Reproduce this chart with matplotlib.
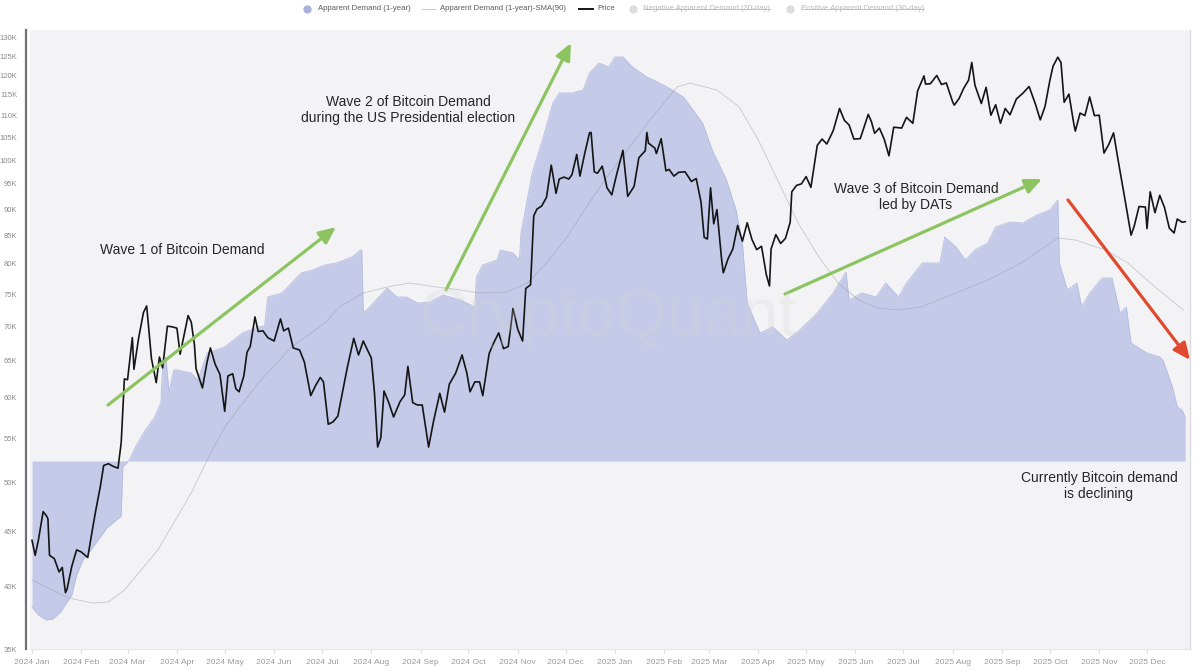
import matplotlib
matplotlib.use('Agg')
import matplotlib.pyplot as plt
import matplotlib.dates as mdates
from matplotlib.ticker import NullLocator
from matplotlib.lines import Line2D
import pandas as pd

plt.rcParams['font.family'] = ['Liberation Sans', 'DejaVu Sans']

# ---------------- data ----------------
price_dates = [
    '2024-01-01', '2024-01-03', '2024-01-05', '2024-01-08', '2024-01-10', '2024-01-11', '2024-01-12', '2024-01-15',
    '2024-01-18', '2024-01-20', '2024-01-22', '2024-01-23', '2024-01-26', '2024-01-29', '2024-02-01', '2024-02-05',
    '2024-02-08', '2024-02-10', '2024-02-13', '2024-02-15', '2024-02-18', '2024-02-21', '2024-02-24', '2024-02-26',
    '2024-02-28', '2024-03-01', '2024-03-04', '2024-03-05', '2024-03-08', '2024-03-11', '2024-03-13', '2024-03-16',
    '2024-03-19', '2024-03-21', '2024-03-23', '2024-03-26', '2024-03-29', '2024-04-01', '2024-04-03', '2024-04-08',
    '2024-04-10', '2024-04-12', '2024-04-13', '2024-04-17', '2024-04-20', '2024-04-22', '2024-04-25', '2024-04-28',
    '2024-05-01', '2024-05-03', '2024-05-06', '2024-05-08', '2024-05-10', '2024-05-13', '2024-05-15', '2024-05-17',
    '2024-05-20', '2024-05-22', '2024-05-25', '2024-05-28', '2024-06-01', '2024-06-05', '2024-06-07', '2024-06-10',
    '2024-06-13', '2024-06-17', '2024-06-20', '2024-06-24', '2024-06-27', '2024-06-30', '2024-07-02', '2024-07-05',
    '2024-07-08', '2024-07-11', '2024-07-14', '2024-07-17', '2024-07-21', '2024-07-24', '2024-07-27', '2024-07-29',
    '2024-08-01', '2024-08-03', '2024-08-05', '2024-08-07', '2024-08-09', '2024-08-12', '2024-08-15', '2024-08-19',
    '2024-08-22', '2024-08-24', '2024-08-27', '2024-08-30', '2024-09-02', '2024-09-06', '2024-09-09', '2024-09-13',
    '2024-09-16', '2024-09-19', '2024-09-23', '2024-09-27', '2024-09-30', '2024-10-02', '2024-10-05', '2024-10-08',
    '2024-10-10', '2024-10-14', '2024-10-17', '2024-10-20', '2024-10-23', '2024-10-26', '2024-10-29', '2024-11-01',
    '2024-11-04', '2024-11-06', '2024-11-09', '2024-11-11', '2024-11-13', '2024-11-16', '2024-11-19', '2024-11-22',
    '2024-11-25', '2024-11-27', '2024-11-30', '2024-12-03', '2024-12-05', '2024-12-08', '2024-12-10', '2024-12-13',
    '2024-12-16', '2024-12-17', '2024-12-19', '2024-12-21', '2024-12-24', '2024-12-27', '2024-12-30',
    '2025-01-02', '2025-01-06', '2025-01-09', '2025-01-13', '2025-01-16', '2025-01-20', '2025-01-21', '2025-01-22',
    '2025-01-26', '2025-01-27', '2025-01-30', '2025-02-02', '2025-02-04', '2025-02-07', '2025-02-10', '2025-02-14',
    '2025-02-18', '2025-02-21', '2025-02-24', '2025-02-26', '2025-02-28', '2025-03-02', '2025-03-04', '2025-03-06',
    '2025-03-09', '2025-03-10', '2025-03-13', '2025-03-16', '2025-03-19', '2025-03-22', '2025-03-25', '2025-03-28',
    '2025-03-31', '2025-04-03', '2025-04-06', '2025-04-08', '2025-04-09', '2025-04-12', '2025-04-15', '2025-04-18',
    '2025-04-21', '2025-04-22', '2025-04-25', '2025-04-28', '2025-05-01', '2025-05-04', '2025-05-08', '2025-05-11',
    '2025-05-14', '2025-05-18', '2025-05-22', '2025-05-25', '2025-05-28', '2025-05-31', '2025-06-04', '2025-06-09',
    '2025-06-11', '2025-06-13', '2025-06-16', '2025-06-19', '2025-06-22', '2025-06-25', '2025-06-30', '2025-07-03',
    '2025-07-07', '2025-07-10', '2025-07-14', '2025-07-15', '2025-07-18', '2025-07-22', '2025-07-25', '2025-07-28',
    '2025-08-01', '2025-08-02', '2025-08-05', '2025-08-08', '2025-08-11', '2025-08-13', '2025-08-15', '2025-08-19',
    '2025-08-22', '2025-08-25', '2025-08-28', '2025-08-31', '2025-09-03', '2025-09-06', '2025-09-10', '2025-09-14',
    '2025-09-18', '2025-09-22', '2025-09-25', '2025-09-28', '2025-10-01', '2025-10-03', '2025-10-06', '2025-10-08',
    '2025-10-10', '2025-10-13', '2025-10-16', '2025-10-17', '2025-10-20', '2025-10-23', '2025-10-26', '2025-10-29',
    '2025-11-01', '2025-11-04', '2025-11-07', '2025-11-10', '2025-11-13', '2025-11-17', '2025-11-21', '2025-11-23',
    '2025-11-26', '2025-11-30', '2025-12-01', '2025-12-03', '2025-12-06', '2025-12-09', '2025-12-12', '2025-12-15',
    '2025-12-18', '2025-12-20', '2025-12-23', '2025-12-25',
]
price_values = [  # USD thousands
    44.2, 42.8, 44.2, 47.0, 46.6, 46.3, 42.8, 42.5,
    41.3, 41.7, 39.5, 39.8, 41.8, 43.3, 43.1, 42.6,
    45.3, 47.1, 49.7, 51.9, 52.1, 51.8, 51.6, 54.5,
    62.5, 62.4, 68.3, 63.8, 68.3, 72.1, 73.1, 65.3,
    62.0, 65.5, 64.0, 70.0, 69.9, 69.7, 65.9, 71.6,
    70.6, 67.2, 63.9, 61.3, 64.9, 66.8, 64.5, 63.1,
    58.3, 62.9, 63.2, 61.2, 60.8, 62.9, 66.2, 67.0,
    71.4, 69.2, 69.3, 68.3, 67.8, 71.1, 69.3, 69.7,
    66.8, 66.5, 64.8, 60.3, 61.6, 62.7, 62.1, 56.7,
    57.0, 57.7, 60.8, 64.1, 68.2, 65.8, 67.8, 66.8,
    65.4, 60.7, 54.0, 55.1, 60.9, 59.4, 57.6, 59.5,
    60.4, 64.2, 59.4, 59.1, 59.1, 54.0, 57.0, 60.6,
    58.2, 61.8, 63.3, 65.8, 63.3, 60.8, 62.1, 62.1,
    60.3, 66.0, 67.6, 69.0, 66.7, 67.0, 72.7, 69.5,
    67.8, 75.9, 76.5, 88.7, 90.0, 90.6, 92.3, 98.9,
    93.1, 96.0, 96.4, 96.0, 96.9, 101.2, 96.6, 101.4,
    106.0, 106.1, 97.5, 97.2, 98.7, 94.2, 92.8,
    96.9, 102.1, 92.5, 94.5, 100.5, 102.0, 106.1, 103.7,
    102.6, 101.4, 104.7, 97.7, 98.0, 96.6, 97.4, 97.5,
    95.5, 96.1, 91.4, 84.7, 84.4, 94.2, 87.2, 89.9,
    80.6, 78.5, 80.9, 82.6, 86.9, 84.0, 87.4, 84.3,
    82.5, 83.1, 78.2, 76.3, 82.6, 85.2, 83.6, 84.5,
    87.5, 93.4, 94.7, 95.0, 96.5, 94.3, 103.2, 104.6,
    103.5, 106.5, 111.7, 108.9, 107.8, 104.6, 104.7, 110.3,
    108.6, 105.9, 107.1, 104.6, 100.9, 107.3, 107.1, 109.6,
    108.2, 116.0, 119.8, 117.7, 117.8, 119.9, 117.6, 118.0,
    113.3, 112.5, 114.1, 116.7, 118.7, 123.3, 117.4, 112.9,
    116.9, 110.1, 112.6, 108.2, 111.7, 110.2, 114.0, 115.4,
    117.1, 112.7, 109.0, 112.2, 118.6, 122.3, 124.7, 123.3,
    113.2, 115.2, 108.2, 106.4, 110.6, 110.0, 114.5, 110.0,
    110.1, 101.5, 103.4, 106.0, 99.7, 92.2, 85.1, 86.8,
    90.5, 90.4, 86.3, 93.4, 89.3, 92.7, 90.3, 86.4,
    85.5, 88.1, 87.5, 87.6,
]

demand_dates = [
    '2024-01-01', '2024-01-05', '2024-01-10', '2024-01-14', '2024-01-19', '2024-01-21', '2024-01-26', '2024-01-29',
    '2024-02-02', '2024-02-07', '2024-02-17', '2024-02-26', '2024-02-27', '2024-03-02', '2024-03-06', '2024-03-11',
    '2024-03-18', '2024-03-22', '2024-03-23', '2024-03-25', '2024-03-27', '2024-03-30', '2024-04-01', '2024-04-10',
    '2024-04-14', '2024-04-20', '2024-05-01', '2024-05-12', '2024-05-22', '2024-05-26', '2024-05-28', '2024-06-06',
    '2024-06-12', '2024-06-18', '2024-06-25', '2024-07-03', '2024-07-10', '2024-07-20', '2024-07-25', '2024-07-26',
    '2024-07-27', '2024-07-31', '2024-08-11', '2024-08-17', '2024-08-23', '2024-08-30', '2024-09-07', '2024-09-15',
    '2024-09-26', '2024-10-05', '2024-10-06', '2024-10-10', '2024-10-19', '2024-10-21', '2024-10-29', '2024-11-02',
    '2024-11-03', '2024-11-10', '2024-11-17', '2024-11-23', '2024-11-27', '2024-12-05', '2024-12-12', '2024-12-16',
    '2024-12-22', '2024-12-28', '2025-01-01', '2025-01-06', '2025-01-12', '2025-01-21', '2025-01-29', '2025-02-06',
    '2025-02-13', '2025-02-19', '2025-02-25', '2025-03-03', '2025-03-12', '2025-03-18', '2025-03-22', '2025-03-25',
    '2025-04-02', '2025-04-10', '2025-04-19', '2025-04-27', '2025-05-08', '2025-05-18', '2025-05-26', '2025-05-28',
    '2025-06-05', '2025-06-14', '2025-06-20', '2025-06-28', '2025-07-03', '2025-07-13', '2025-07-24', '2025-07-27',
    '2025-08-03', '2025-08-09', '2025-08-15', '2025-08-23', '2025-08-28', '2025-09-06', '2025-09-14', '2025-09-23',
    '2025-10-01', '2025-10-06', '2025-10-07', '2025-10-12', '2025-10-18', '2025-10-21', '2025-10-26', '2025-11-03',
    '2025-11-09', '2025-11-14', '2025-11-18', '2025-11-21', '2025-12-01', '2025-12-09', '2025-12-11', '2025-12-17',
    '2025-12-20', '2025-12-23', '2025-12-25',
]
demand_values = [  # thousand BTC (approx.)
    -438, -462, -477, -474, -453, -438, -402, -342,
    -297, -267, -201, -165, -18, 3, 42, 84,
    132, 177, 288, 312, 207, 273, 273, 264,
    243, 324, 342, 384, 402, 405, 492, 504,
    534, 564, 573, 588, 594, 612, 633, 633,
    444, 462, 519, 492, 492, 474, 477, 498,
    483, 462, 552, 588, 603, 633, 624, 603,
    684, 864, 972, 1074, 1104, 1104, 1113, 1164,
    1194, 1182, 1212, 1212, 1182, 1152, 1134, 1113,
    1092, 1053, 1014, 933, 843, 753, 654, 474,
    384, 402, 363, 393, 444, 504, 567, 483,
    504, 492, 534, 492, 534, 594, 594, 672,
    642, 603, 633, 654, 702, 717, 714, 738,
    753, 783, 594, 513, 534, 462, 504, 549,
    549, 444, 462, 354, 324, 312, 303, 222,
    162, 153, 132,
]

sma_dates = [
    '2024-01-01', '2024-01-24', '2024-02-08', '2024-02-18', '2024-02-28', '2024-03-20', '2024-04-10', '2024-04-20',
    '2024-05-01', '2024-05-22', '2024-06-12', '2024-07-03', '2024-07-12', '2024-07-27', '2024-08-11', '2024-08-25',
    '2024-09-11', '2024-09-26', '2024-10-08', '2024-10-25', '2024-11-07', '2024-11-19', '2024-12-02', '2024-12-14',
    '2024-12-27', '2025-01-04', '2025-01-23', '2025-02-09', '2025-02-17', '2025-03-06', '2025-03-20', '2025-04-01',
    '2025-04-14', '2025-04-26', '2025-05-09', '2025-05-21', '2025-06-03', '2025-06-15', '2025-06-28', '2025-07-12',
    '2025-08-03', '2025-08-23', '2025-09-13', '2025-09-28', '2025-10-06', '2025-10-17', '2025-11-05', '2025-11-19',
    '2025-12-06', '2025-12-16', '2025-12-24',
]
sma_values = [
    -357, -411, -426, -423, -387, -267, -96, 3,
    102, 234, 342, 414, 462, 504, 522, 534,
    522, 513, 504, 507, 534, 594, 672, 762,
    852, 903, 1023, 1122, 1134, 1113, 1062, 963,
    834, 714, 612, 534, 483, 459, 453, 462,
    504, 543, 594, 642, 669, 663, 633, 594,
    522, 483, 453,
]

y_tick_values = [35, 40, 45, 50, 55, 60, 65, 70, 75, 80, 85, 90, 95, 100, 105, 110, 115, 120, 125, 130]
y_tick_labels = [f'{v}K' for v in y_tick_values]

legend_labels = ['Apparent Demand (1-year)', 'Apparent Demand (1-year)-SMA(90)', 'Price',
                 'Negative Apparent Demand (30-day)', 'Positive Apparent Demand (30-day)']

# ---------------- figure ----------------
W, H = 1200, 671
fig = plt.figure(figsize=(W / 100, H / 100), dpi=100)
fig.patch.set_facecolor('white')


def fx(px):
    return px / W


def fy(py):
    return 1 - py / H


ax_left, ax_right, ax_top, ax_bottom = 30, 1190, 30, 649
ax = fig.add_axes([fx(ax_left), fy(ax_bottom), (ax_right - ax_left) / W, (ax_bottom - ax_top) / H])
ax.set_facecolor('#f3f3f5')

pd_dates = pd.to_datetime(demand_dates)
ax.fill_between(pd_dates, 0, demand_values, color='#c4cae8', linewidth=0, zorder=1)
ax.plot(pd_dates, demand_values, color='#b4bce1', lw=0.6, zorder=2)
ax.plot(pd.to_datetime(sma_dates), sma_values, color='#9a9aa4', lw=0.6, alpha=0.5, zorder=3)
ax.set_ylim(-564, 1293)

start = mdates.date2num(pd.Timestamp('2024-01-01'))
ax.set_xlim(start - 1.25, start + 727)
month_ticks = pd.date_range('2024-01-01', '2025-12-01', freq='MS')
ax.set_xticks(month_ticks)
ax.set_xticklabels([d.strftime('%Y %b') for d in month_ticks])
ax.tick_params(axis='x', length=3, color='#dcdce0', labelsize=6.1, labelcolor='#9a9aa0', pad=4)
for s in ['top', 'left', 'right']:
    ax.spines[s].set_visible(False)
ax.spines['bottom'].set_color('#e6e6ea')
ax.spines['bottom'].set_linewidth(0.8)

ax2 = ax.twinx()
# the demand axis keeps no visible y ticks
ax.yaxis.set_major_locator(NullLocator())
ax.yaxis.set_minor_locator(NullLocator())
ax.tick_params(axis='y', left=False, labelleft=False, right=False, labelright=False)

ax2.set_yscale('log')
ax2.plot(pd.to_datetime(price_dates), [v * 1000 for v in price_values], color='#151515', lw=1.2, zorder=5)
ax2.set_ylim(35000, 132200)
ax2.yaxis.tick_left()
ax2.set_yticks([v * 1000 for v in y_tick_values])
ax2.set_yticklabels(y_tick_labels)
ax2.yaxis.set_minor_locator(NullLocator())
ax2.tick_params(axis='y', which='both', length=0, labelsize=5.5, labelcolor='#8a8a90', pad=6, right=False)
ax2.spines['left'].set_position(('outward', 3))
ax2.spines['left'].set_color('#707076')
ax2.spines['left'].set_linewidth(1.6)
ax2.spines['right'].set_color('#dcdce0')
ax2.spines['right'].set_linewidth(1.0)
ax2.spines['top'].set_visible(False)
ax2.spines['bottom'].set_visible(False)

# watermark
fig.text(fx(609), fy(318), 'CryptoQuant', fontsize=48, color='#d6d6db', alpha=0.25,
         ha='center', va='center', zorder=0)

# ---------------- annotations ----------------
txt_kw = dict(fontsize=10, color='#262626', ha='center', va='center', linespacing=1.18)
fig.text(fx(182), fy(250), 'Wave 1 of Bitcoin Demand', **txt_kw)
fig.text(fx(408), fy(110), 'Wave 2 of Bitcoin Demand\nduring the US Presidential election', **txt_kw)
fig.text(fx(916), fy(197), 'Wave 3 of Bitcoin Demand\nled by DATs', **txt_kw)
fig.text(fx(1099), fy(486), 'Currently Bitcoin demand\nis declining', **txt_kw)

green = '#8dc462'
red = '#df4a2e'
arrows = [((108, 405), (336, 227), green),
          ((446, 290), (571, 43), green),
          ((785, 294), (1042, 179), green),
          ((1068, 200), (1190, 360), red)]
for (x0, y0), (x1, y1), c in arrows:
    ax2.annotate('', xy=(fx(x1), fy(y1)), xytext=(fx(x0), fy(y0)),
                 xycoords='figure fraction', textcoords='figure fraction',
                 arrowprops=dict(arrowstyle='-|>,head_length=1.0,head_width=0.45', color=c,
                                 lw=2.3, shrinkA=0, shrinkB=0, mutation_scale=10),
                 zorder=10)

# ---------------- legend ----------------
ly = fy(9)
fig.add_artist(Line2D([fx(307)], [ly], marker='o', markersize=5, color='#a9b2df', lw=0,
                      transform=fig.transFigure))
fig.text(fx(318), ly, legend_labels[0], fontsize=5.6, color='#5a5a60', va='center', ha='left')
fig.add_artist(Line2D([fx(422), fx(435)], [ly, ly], color='#c8c8cc', lw=0.7, transform=fig.transFigure))
fig.text(fx(440), ly, legend_labels[1], fontsize=5.6, color='#5a5a60', va='center', ha='left')
fig.add_artist(Line2D([fx(579), fx(593)], [ly, ly], color='#151515', lw=1.4, transform=fig.transFigure))
fig.text(fx(597), ly, legend_labels[2], fontsize=5.6, color='#5a5a60', va='center', ha='left')
fig.add_artist(Line2D([fx(633)], [ly], marker='o', markersize=5, color='#dedee2', lw=0,
                      transform=fig.transFigure))
t_neg = fig.text(fx(643), ly, legend_labels[3], fontsize=5.6, color='#b8b8bd', va='center', ha='left')
fig.add_artist(Line2D([fx(790)], [ly], marker='o', markersize=5, color='#dedee2', lw=0,
                      transform=fig.transFigure))
t_pos = fig.text(fx(801), ly, legend_labels[4], fontsize=5.6, color='#b8b8bd', va='center', ha='left')

fig.canvas.draw()
renderer = fig.canvas.get_renderer()
inv = fig.transFigure.inverted()
for t in (t_neg, t_pos):
    bb = t.get_window_extent(renderer)
    (a0, b0), (a1, b1) = inv.transform([(bb.x0, bb.y0), (bb.x1, bb.y1)])
    ym = b0 + 0.52 * (b1 - b0)
    fig.add_artist(Line2D([a0, a1], [ym, ym], color='#b8b8bd', lw=0.6, transform=fig.transFigure))

fig.savefig('out.png', dpi=100, facecolor='white')
